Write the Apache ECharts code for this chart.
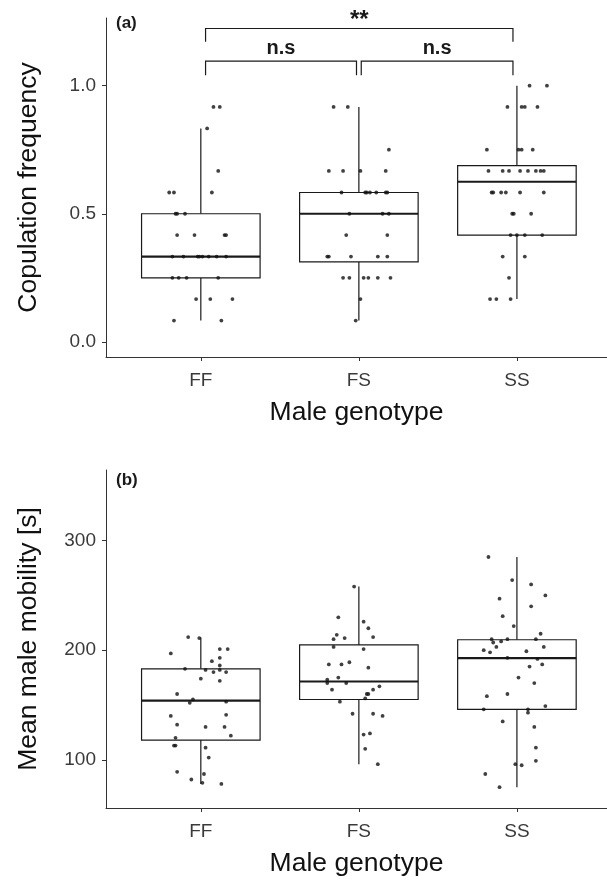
<!DOCTYPE html>
<html>
<head>
<meta charset="utf-8">
<script src="https://cdn.jsdelivr.net/npm/echarts@6/dist/echarts.min.js"></script>
<style>
  html, body { margin: 0; padding: 0; background: #fff; }
  #main { width: 607px; height: 880px; }
</style>
</head>
<body>
<div id="main"></div>
<script>
// categories on the x axis
var genotypes = ['FF', 'FS', 'SS'];

// (a) copulation frequency: box stats [min, q1, median, q3, max]
var copBoxFF = [0.083, 0.25, 0.333, 0.5, 0.833];
var copBoxFS = [0.083, 0.3125, 0.5, 0.583, 0.917];
var copBoxSS = [0.167, 0.417, 0.625, 0.6875, 1.0];

// (a) jittered points: [x offset from category, value]
var copFF = [
  [0.08, 0.917], [0.12, 0.917], [0.04, 0.833], [0.11, 0.667],
  [-0.20, 0.583], [-0.17, 0.583], [0.07, 0.583],
  [-0.16, 0.5], [-0.15, 0.5], [-0.10, 0.5],
  [-0.15, 0.417], [-0.04, 0.417], [0.15, 0.417], [0.16, 0.417],
  [-0.18, 0.333], [-0.11, 0.333], [-0.02, 0.333], [-0.01, 0.333], [0.01, 0.333], [0.05, 0.333], [0.10, 0.333], [0.16, 0.333],
  [-0.18, 0.25], [-0.14, 0.25], [-0.09, 0.25], [0.11, 0.25],
  [-0.03, 0.167], [0.06, 0.167], [0.20, 0.167],
  [-0.17, 0.083], [0.13, 0.083]
];
var copFS = [
  [-0.16, 0.917], [-0.07, 0.917], [0.19, 0.75],
  [-0.19, 0.667], [-0.10, 0.667], [0.01, 0.667], [0.17, 0.667],
  [-0.11, 0.583], [0.04, 0.583], [0.05, 0.583], [0.07, 0.583], [0.11, 0.583], [0.17, 0.583], [0.18, 0.583],
  [-0.06, 0.5], [0.15, 0.5], [0.19, 0.5],
  [-0.08, 0.417], [0.18, 0.417],
  [-0.20, 0.333], [-0.19, 0.333], [-0.05, 0.333], [0.12, 0.333], [0.18, 0.333],
  [-0.10, 0.25], [-0.06, 0.25], [0.03, 0.25], [0.06, 0.25], [0.12, 0.25], [0.20, 0.25],
  [0.01, 0.167], [-0.02, 0.083]
];
var copSS = [
  [0.08, 1.0], [0.19, 1.0],
  [-0.06, 0.917], [0.03, 0.917], [0.05, 0.917], [0.13, 0.917],
  [-0.19, 0.75], [0.01, 0.75], [0.03, 0.75], [0.10, 0.75],
  [-0.18, 0.667], [-0.09, 0.667], [-0.05, 0.667], [0.02, 0.667], [0.07, 0.667], [0.12, 0.667], [0.15, 0.667], [0.17, 0.667],
  [-0.16, 0.583], [-0.15, 0.583], [-0.10, 0.583], [-0.07, 0.583], [0.02, 0.583], [0.17, 0.583],
  [-0.03, 0.5], [-0.02, 0.5], [0.09, 0.5],
  [-0.04, 0.417], [0.00, 0.417], [0.05, 0.417], [0.16, 0.417],
  [-0.09, 0.333], [0.05, 0.333],
  [-0.05, 0.25],
  [-0.17, 0.167], [-0.13, 0.167], [-0.04, 0.167]
];

// (b) mean male mobility: box stats [min, q1, median, q3, max]
var mobBoxFF = [78, 118, 154, 183, 211.5];
var mobBoxFS = [96, 155, 171.4, 204.8, 258];
var mobBoxSS = [75, 146, 192.7, 209.5, 285];

var mobFF = [
  [-0.08, 212], [-0.01, 211], [-0.19, 197], [0.12, 201], [0.17, 201], [0.12, 193], [0.07, 190],
  [0.12, 186], [-0.10, 183], [0.03, 182], [0.08, 180], [0.12, 182], [0.16, 180], [0.00, 174],
  [0.12, 172], [-0.15, 160], [-0.05, 155], [-0.07, 152], [0.16, 153], [-0.19, 140], [0.16, 141],
  [-0.15, 132], [0.03, 130], [0.15, 130], [0.19, 122], [-0.16, 120], [-0.17, 113], [-0.16, 113],
  [0.03, 111], [0.05, 102], [-0.15, 89], [0.02, 87], [-0.06, 82], [0.01, 79], [0.13, 78]
];
var mobFS = [
  [-0.03, 258], [-0.13, 230], [0.03, 226], [0.06, 220], [-0.14, 214], [-0.09, 211], [-0.16, 210],
  [0.09, 212], [-0.16, 203], [0.03, 201], [-0.19, 187], [-0.11, 187], [-0.06, 189], [0.06, 184],
  [-0.13, 175], [-0.20, 173], [-0.20, 170], [-0.08, 170], [0.13, 167], [-0.17, 164], [0.09, 164],
  [0.05, 160], [0.06, 160], [0.04, 156], [-0.12, 153], [-0.04, 142], [0.09, 142], [0.15, 140],
  [0.03, 123], [0.07, 124], [0.04, 110], [0.12, 96]
];
var mobSS = [
  [-0.18, 285], [-0.03, 264], [0.09, 260], [0.18, 250], [-0.11, 247], [0.09, 240], [-0.09, 231],
  [-0.02, 222], [0.15, 215], [-0.16, 210], [-0.06, 210], [0.12, 210], [-0.15, 207], [-0.10, 208],
  [-0.13, 203], [0.17, 203], [-0.21, 200], [-0.17, 198], [0.06, 199], [-0.06, 193], [0.13, 192],
  [0.16, 187], [0.08, 185], [0.01, 175], [0.11, 170], [-0.06, 160], [-0.19, 158], [0.18, 149],
  [-0.21, 146], [0.07, 146], [0.07, 143], [-0.09, 135], [0.11, 130], [0.12, 111], [0.12, 99],
  [-0.01, 96], [0.03, 95], [-0.20, 87], [-0.11, 75]
];

// significance brackets for (a): [x start, x end, bracket y, leg bottom y, label]
var sigBrackets = [
  [1.03, 2.975, 1.223, 1.171, '**'],
  [1.03, 1.985, 1.096, 1.041, 'n.s'],
  [2.015, 2.975, 1.096, 1.041, 'n.s']
];

var tickCop = [0, 0.5, 1.0];
var tickMob = [100, 200, 300];

var myChart = echarts.init(document.getElementById('main'));

var FONT = 'Liberation Sans, Arial, sans-serif';
var BOX_W = 0.75;

function boxRows (boxes) { // [x, min, q1, med, q3, max]
  return boxes.map(function (b, i) { return [i + 1].concat(b); });
}
function pointRows (groups) {
  var out = [];
  groups.forEach(function (g, i) {
    g.forEach(function (p) { out.push([i + 1 + p[0], p[1]]); });
  });
  return out;
}

function renderBox (params, api) {
  var x = api.value(0);
  var pMin = api.coord([x, api.value(1)]);
  var pQ1 = api.coord([x - BOX_W / 2, api.value(2)]);
  var pMed = api.coord([x, api.value(3)]);
  var pQ3 = api.coord([x + BOX_W / 2, api.value(4)]);
  var pMax = api.coord([x, api.value(5)]);
  var line = { stroke: '#1a1a1a', lineWidth: 1.2 };
  return {
    type: 'group',
    children: [
      { type: 'line', shape: { x1: pMin[0], y1: pMin[1], x2: pMin[0], y2: pQ1[1] }, style: line },
      { type: 'line', shape: { x1: pMax[0], y1: pMax[1], x2: pMax[0], y2: pQ3[1] }, style: line },
      { type: 'rect', shape: { x: pQ1[0], y: pQ3[1], width: pQ3[0] - pQ1[0], height: pQ1[1] - pQ3[1] },
        style: { fill: '#fff', stroke: '#1a1a1a', lineWidth: 1.2 } },
      { type: 'line', shape: { x1: pQ1[0], y1: pMed[1], x2: pQ3[0], y2: pMed[1] },
        style: { stroke: '#1a1a1a', lineWidth: 2.2 } }
    ]
  };
}

function renderBracket (params, api) {
  var a = api.coord([api.value(0), api.value(2)]);
  var b = api.coord([api.value(1), api.value(2)]);
  var legA = api.coord([api.value(0), api.value(3)]);
  var txt = sigBrackets[params.dataIndex][4];
  var big = txt === '**';
  return {
    type: 'group',
    children: [
      { type: 'polyline', shape: { points: [[a[0], legA[1]], a, b, [b[0], legA[1]]] },
        style: { stroke: '#1a1a1a', lineWidth: 1.2, fill: null } },
      { type: 'text', x: (a[0] + b[0]) / 2, y: a[1] - (big ? -4 : 3),
        style: { text: txt, fill: '#1a1a1a', font: 'bold ' + (big ? 24 : 20) + 'px ' + FONT, align: 'center', verticalAlign: 'bottom' } }
    ]
  };
}

function xAxisCfg (gi) {
  return {
    type: 'value', gridIndex: gi, min: 0.4, max: 3.57,
    name: 'Male genotype', nameLocation: 'middle', nameGap: 42,
    nameTextStyle: { fontFamily: FONT, fontSize: 26.5, color: '#111' },
    axisLine: { onZero: false, lineStyle: { color: '#333', width: 1 } },
    axisTick: { show: true, length: 4, customValues: [1, 2, 3], lineStyle: { color: '#333' } },
    axisLabel: {
      customValues: [1, 2, 3], margin: 14, fontFamily: FONT, fontSize: 19, color: '#3a3a3a',
      formatter: function (v) { return genotypes[Math.round(v) - 1]; }
    },
    splitLine: { show: false }
  };
}

function yAxisCfg (gi, name, min, max, ticks, fmt) {
  return {
    type: 'value', gridIndex: gi, min: min, max: max,
    name: name, nameLocation: 'middle', nameGap: 64,
    nameTextStyle: { fontFamily: FONT, fontSize: 26.5, color: '#111' },
    axisLine: { show: true, onZero: false, lineStyle: { color: '#333', width: 1 } },
    axisTick: { show: true, length: 4, customValues: ticks, lineStyle: { color: '#333' } },
    axisLabel: { customValues: ticks, margin: 10, fontFamily: FONT, fontSize: 19, color: '#3a3a3a', formatter: fmt },
    splitLine: { show: false }
  };
}

let option = {
  animation: false,
  title: [
    { text: '(a)', left: 116, top: 15, padding: 0, textStyle: { fontFamily: FONT, fontSize: 17, fontWeight: 'bold', color: '#1a1a1a' } },
    { text: '(b)', left: 116, top: 472, padding: 0, textStyle: { fontFamily: FONT, fontSize: 17, fontWeight: 'bold', color: '#1a1a1a' } }
  ],
  grid: [
    { left: 106, right: 0, top: 18, height: 339 },
    { left: 106, right: 0, top: 470, height: 338 }
  ],
  xAxis: [xAxisCfg(0), xAxisCfg(1)],
  yAxis: [
    yAxisCfg(0, 'Copulation frequency', -0.059, 1.264, tickCop, function (v) { return v.toFixed(1); }),
    yAxisCfg(1, 'Mean male mobility [s]', 56, 364.4, tickMob, function (v) { return String(v); })
  ],
  series: [
    {
      type: 'custom', xAxisIndex: 0, yAxisIndex: 0, renderItem: renderBox,
      encode: { x: 0, y: [1, 2, 3, 4, 5] },
      data: boxRows([copBoxFF, copBoxFS, copBoxSS]), z: 2
    },
    {
      type: 'scatter', xAxisIndex: 0, yAxisIndex: 0, symbolSize: 3.8,
      itemStyle: { color: '#111' }, data: pointRows([copFF, copFS, copSS]), z: 3
    },
    {
      type: 'custom', xAxisIndex: 0, yAxisIndex: 0, renderItem: renderBracket, clip: false,
      encode: { x: [0, 1], y: [2, 3] },
      data: sigBrackets.map(function (s) { return s.slice(0, 4); }), z: 4
    },
    {
      type: 'custom', xAxisIndex: 1, yAxisIndex: 1, renderItem: renderBox,
      encode: { x: 0, y: [1, 2, 3, 4, 5] },
      data: boxRows([mobBoxFF, mobBoxFS, mobBoxSS]), z: 2
    },
    {
      type: 'scatter', xAxisIndex: 1, yAxisIndex: 1, symbolSize: 3.8,
      itemStyle: { color: '#111' }, data: pointRows([mobFF, mobFS, mobSS]), z: 3
    }
  ]
};

myChart.setOption(option);
</script>
</body>
</html>
